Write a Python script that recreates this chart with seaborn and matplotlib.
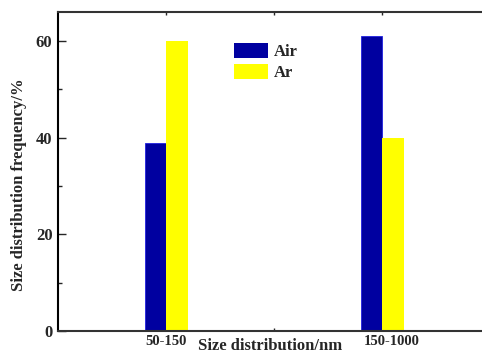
import matplotlib
matplotlib.use("Agg")
import matplotlib.pyplot as plt
import matplotlib.transforms as mtransforms
from matplotlib.ticker import MultipleLocator, FixedLocator
import pandas as pd
import seaborn as sns

sizes = ["50-150", "150-1000"]
air = [39, 61]
ar = [60, 40]

df = pd.DataFrame({
    "size": sizes * 2,
    "freq": air + ar,
    "gas": ["Air"] * 2 + ["Ar"] * 2,
})

sns.set_style("ticks")
plt.rcParams["font.family"] = ["Liberation Serif", "DejaVu Serif"]
plt.rcParams["font.weight"] = "bold"

fig = plt.figure(figsize=(4.82, 3.54), dpi=100)
ax = fig.add_axes([58 / 482, 23 / 354, 1 - 58 / 482, 319 / 354])

sns.barplot(data=df, x="size", y="freq", hue="gas", width=0.2,
            palette={"Air": "#0000A0", "Ar": "#FFFF00"}, saturation=1,
            linewidth=0, ax=ax)
for bar in ax.patches[:2]:
    bar.set_edgecolor("#2020E0")
    bar.set_linewidth(0.6)

ax.set_axisbelow(True)
ax.set_xlim(-0.5, 1.46)
ax.set_ylim(0, 66)
ax.yaxis.set_major_locator(MultipleLocator(20))
ax.yaxis.set_minor_locator(MultipleLocator(10))
ax.xaxis.set_minor_locator(FixedLocator([0.5]))
ax.tick_params(axis="y", which="major", direction="in", length=6, width=1, labelsize=12, pad=4)
ax.tick_params(axis="y", which="minor", direction="in", length=3, width=1)
ax.tick_params(axis="x", which="both", direction="in", length=2.5, width=1, top=True)
ax.tick_params(axis="x", which="major", labelsize=10.5, pad=3)
for lab in ax.get_xticklabels() + ax.get_yticklabels():
    lab.set_fontweight("bold")
# the second category label sits a little right of its bars in the original
lab2 = ax.get_xticklabels()[1]
lab2.set_transform(lab2.get_transform() + mtransforms.ScaledTranslation(0.09, 0, fig.dpi_scale_trans))

for s in ["left", "bottom", "top"]:
    ax.spines[s].set_linewidth(1.5)
    ax.spines[s].set_color("#333333")
ax.spines["left"].set_color("black")
ax.spines["right"].set_visible(False)

ax.set_xlabel("Size distribution/nm", fontsize=12, fontweight="bold", labelpad=-7)
ax.set_ylabel("Size distribution frequency/%", fontsize=12, fontweight="bold")
ax.yaxis.set_label_coords(-0.074, 0.46)

leg = ax.legend(loc="upper left", bbox_to_anchor=(0.4, 0.925), frameon=False,
                fontsize=12, handlelength=2.05, handleheight=1.0,
                handletextpad=0.3, labelspacing=0.25, borderaxespad=0)
for t in leg.get_texts():
    t.set_fontweight("bold")

fig.savefig("out.png", dpi=100)
